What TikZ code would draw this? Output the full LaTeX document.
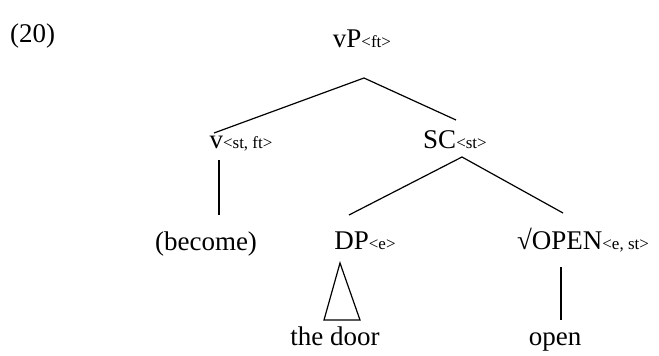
\documentclass[tikz,border=0pt]{standalone}
\usepackage{fontspec}
\setmainfont{Liberation Serif}
\usepackage{tikz}
\usetikzlibrary{calc}
\newcommand{\typ}[1]{{\fontsize{17}{18}\selectfont #1}}

\begin{document}
\begin{tikzpicture}[
    x=1pt, y=-1pt,
    cat/.style={inner sep=0pt, anchor=base, font=\fontsize{27}{30}\selectfont},
    br/.style={line width=1.2pt, draw=black}
  ]
    \useasboundingbox (0,0) rectangle (659,356);
    \node[cat,anchor=base west] (ex) at (10,42) {(20)};
    \node[cat] (vP) at (362,47) {vP\typ{<ft>}};
    \node[cat] (v) at (241,148) {v\typ{<st, ft>}};
    \node[cat] (SC) at (455,148) {SC\typ{<st>}};
    \node[cat] (become) at (206,250) {(become)};
    \node[cat] (DP) at (365,249) {DP\typ{<e>}};
    \node[cat] (OPEN) at (583,249) {√OPEN\typ{<e, st>}};
    \node[cat] (door) at (335,345) {the door};
    \node[cat] (open) at (555,345) {open};

    \draw[br] ([xshift=-27pt,yshift=15pt]v.base) -- ([xshift=2pt,yshift=-31pt]vP.base) -- ([xshift=1pt,yshift=28pt]SC.base);
    \draw[br] ([xshift=-22pt,yshift=-12pt]v.base) -- ([xshift=13pt,yshift=35pt]become.base);
    \draw[br] ([xshift=-16pt,yshift=34pt]DP.base) -- ([xshift=7pt,yshift=-9pt]SC.base) -- ([xshift=-20pt,yshift=36pt]OPEN.base);
    \draw[br] ([xshift=-25pt,yshift=-14pt]DP.base) -- ([xshift=25pt,yshift=25pt]door.base) -- ([xshift=-11pt,yshift=25pt]door.base) -- cycle;
    \draw[br] ([xshift=-22pt,yshift=-18pt]OPEN.base) -- ([xshift=6pt,yshift=25pt]open.base);
  \end{tikzpicture}
\end{document}
